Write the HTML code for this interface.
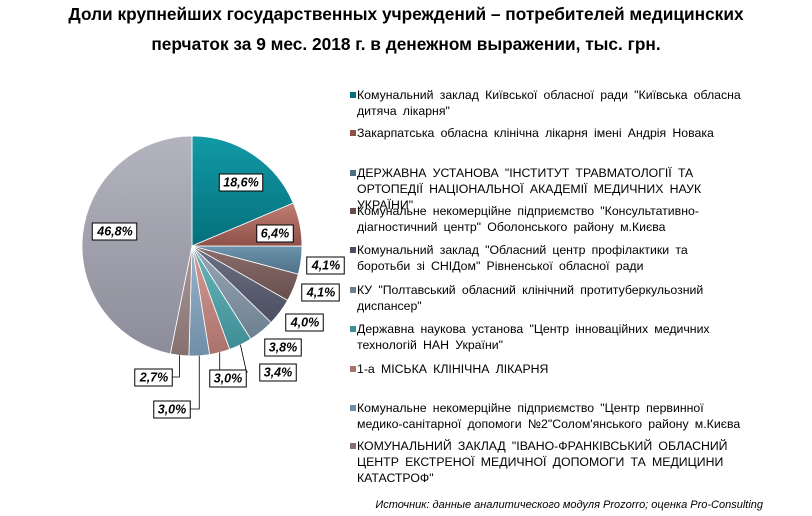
<!DOCTYPE html>
<html><head><meta charset="utf-8">
<style>
body{margin:0;width:812px;height:516px;background:#fff;font-family:"Liberation Sans",sans-serif;position:relative;overflow:hidden}
.title{position:absolute;left:0;width:812px;text-align:center;font-weight:bold;font-size:17.3px;color:#000}
.leg{position:absolute;left:357px;font-size:12.3px;line-height:16px;color:#000;white-space:nowrap;word-spacing:2.8px}
.mk{position:absolute;left:-7px;top:5px;width:6px;height:6px}
.src{position:absolute;right:49px;top:499px;font-size:11px;font-style:italic;color:#000}
</style></head><body>
<div class="title" style="top:4px">Доли крупнейших государственных учреждений – потребителей медицинских</div>
<div class="title" style="top:34px">перчаток за 9 мес. 2018 г. в денежном выражении, тыс. грн.</div>
<svg id="pie" width="812" height="516" style="position:absolute;left:0;top:0">
<defs id="defs"></defs>
<g id="slices"></g><g id="leaders"></g><g id="labels"></g>
</svg>
<div id="legend"></div>
<div class="src">Источник: данные аналитического модуля Prozorro; оценка Pro-Consulting</div>
<script>
const shares=[18.6,6.4,4.1,4.1,4.0,3.8,3.4,3.0,3.0,2.7,46.8];
const labels=["18,6%","6,4%","4,1%","4,1%","4,0%","3,8%","3,4%","3,0%","3,0%","2,7%","46,8%"];
const legendNames=[
 ["Комунальний заклад Київської обласної ради \"Київська обласна","дитяча лікарня\""],
 ["Закарпатська обласна клінічна лікарня імені Андрія Новака"],
 ["ДЕРЖАВНА УСТАНОВА \"ІНСТИТУТ ТРАВМАТОЛОГІЇ ТА","ОРТОПЕДІЇ НАЦІОНАЛЬНОЇ АКАДЕМІЇ МЕДИЧНИХ НАУК","УКРАЇНИ\""],
 ["Комунальне некомерційне підприємство \"Консультативно-","діагностичний центр\" Оболонського району м.Києва"],
 ["Комунальний заклад \"Обласний центр профілактики та","боротьби зі СНІДом\" Рівненської обласної ради"],
 ["КУ \"Полтавський обласний клінічний протитуберкульозний","диспансер\""],
 ["Державна наукова установа \"Центр інноваційних медичних","технологій НАН України\""],
 ["1-а МІСЬКА КЛІНІЧНА ЛІКАРНЯ"],
 ["Комунальне некомерційне підприємство \"Центр первинної","медико-санітарної допомоги №2\"Солом'янського району м.Києва"],
 ["КОМУНАЛЬНИЙ ЗАКЛАД \"ІВАНО-ФРАНКІВСЬКИЙ ОБЛАСНИЙ","ЦЕНТР ЕКСТРЕНОЇ МЕДИЧНОЇ ДОПОМОГИ ТА МЕДИЦИНИ","КАТАСТРОФ\""]
];
const colors=[["#119aa6","#04707c"],["#c07e74","#8e5048"],["#6e95ad","#4b6f86"],["#8c6e6c","#664e4c"],["#6c7084","#4c4f60"],["#96a6b4","#6e8090"],["#6ab4ba","#3e8e96"],["#d49c94","#aa726a"],["#9ab4cc","#6f8ea8"],["#aa9a9a","#85706f"],["#b4b4c0","#8c8c9a"]];
const labelPos=[[241,182],[275,233],[326,265],[321,292],[305,322],[283,347],[278,372],[228,378],[172,409],[154,377],[115,231]];
const legendTops=[87,125,165,203,242,282,321,361,400,438];
const cx=192,cy=246,r=110;
const ns="http://www.w3.org/2000/svg";
const defs=document.getElementById('defs'),g=document.getElementById('slices'),lg=document.getElementById('labels'),ld=document.getElementById('leaders');
const total=shares.reduce((a,b)=>a+b,0);
let a0=0;
shares.forEach((v,i)=>{
 const a1=a0+v/total*2*Math.PI;
 const gr=document.createElementNS(ns,'linearGradient');gr.id='g'+i;gr.setAttribute('x1','0');gr.setAttribute('y1','0');gr.setAttribute('x2','0');gr.setAttribute('y2','1');
 gr.innerHTML=`<stop offset="0" stop-color="${colors[i][0]}"/><stop offset="1" stop-color="${colors[i][1]}"/>`;defs.appendChild(gr);
 const x0=cx+r*Math.sin(a0),y0=cy-r*Math.cos(a0),x1=cx+r*Math.sin(a1),y1=cy-r*Math.cos(a1);
 const p=document.createElementNS(ns,'path');
 p.setAttribute('d',`M${cx},${cy}L${x0},${y0}A${r},${r} 0 ${(a1-a0)>Math.PI?1:0} 1 ${x1},${y1}Z`);
 p.setAttribute('fill',`url(#g${i})`);p.setAttribute('stroke','#fff');p.setAttribute('stroke-width','0.8');
 
 
 g.appendChild(p);
 const mid=(a0+a1)/2,[lx,ly]=labelPos[i];
 const ex=cx+r*Math.sin(mid),ey=cy-r*Math.cos(mid);
 if(i>=6&&i<=9){const l=document.createElementNS(ns,'polyline');
  const px=i==6?lx-30:lx+(i==7?-8:15);
  l.setAttribute('points',`${ex},${ey} ${i==6?ex+6:ex},${ly} ${px},${ly}`);l.setAttribute('fill','none');l.setAttribute('stroke','#000');l.setAttribute('stroke-width','0.8');
  
  
  ld.appendChild(l);}
 const t=document.createElementNS(ns,'text');
 t.setAttribute('x',lx);t.setAttribute('y',ly+4.5);t.setAttribute('text-anchor','middle');
 t.setAttribute('font-size','12.5');t.setAttribute('font-weight','bold');t.setAttribute('font-style','italic');t.setAttribute('font-family','Liberation Sans, sans-serif');
 t.textContent=labels[i];
 
 
 lg.appendChild(t);
 const bb=t.getBBox();
 const rc=document.createElementNS(ns,'rect');
 rc.setAttribute('x',bb.x-4);rc.setAttribute('y',ly-8);rc.setAttribute('width',bb.width+8);rc.setAttribute('height',17);
 rc.setAttribute('fill','#fff');rc.setAttribute('stroke','#000');rc.setAttribute('stroke-width','1');
 
 
 lg.insertBefore(rc,t);
 a0=a1;
});
const L=document.getElementById('legend');
legendNames.forEach((lines,i)=>{
 const d=document.createElement('div');d.className='leg';d.style.top=legendTops[i]+'px';
 
 
 d.innerHTML=`<span class="mk" style="background:${colors[i][1]}"></span>`+lines.join('<br>');
 L.appendChild(d);
});
</script>
</body></html>
